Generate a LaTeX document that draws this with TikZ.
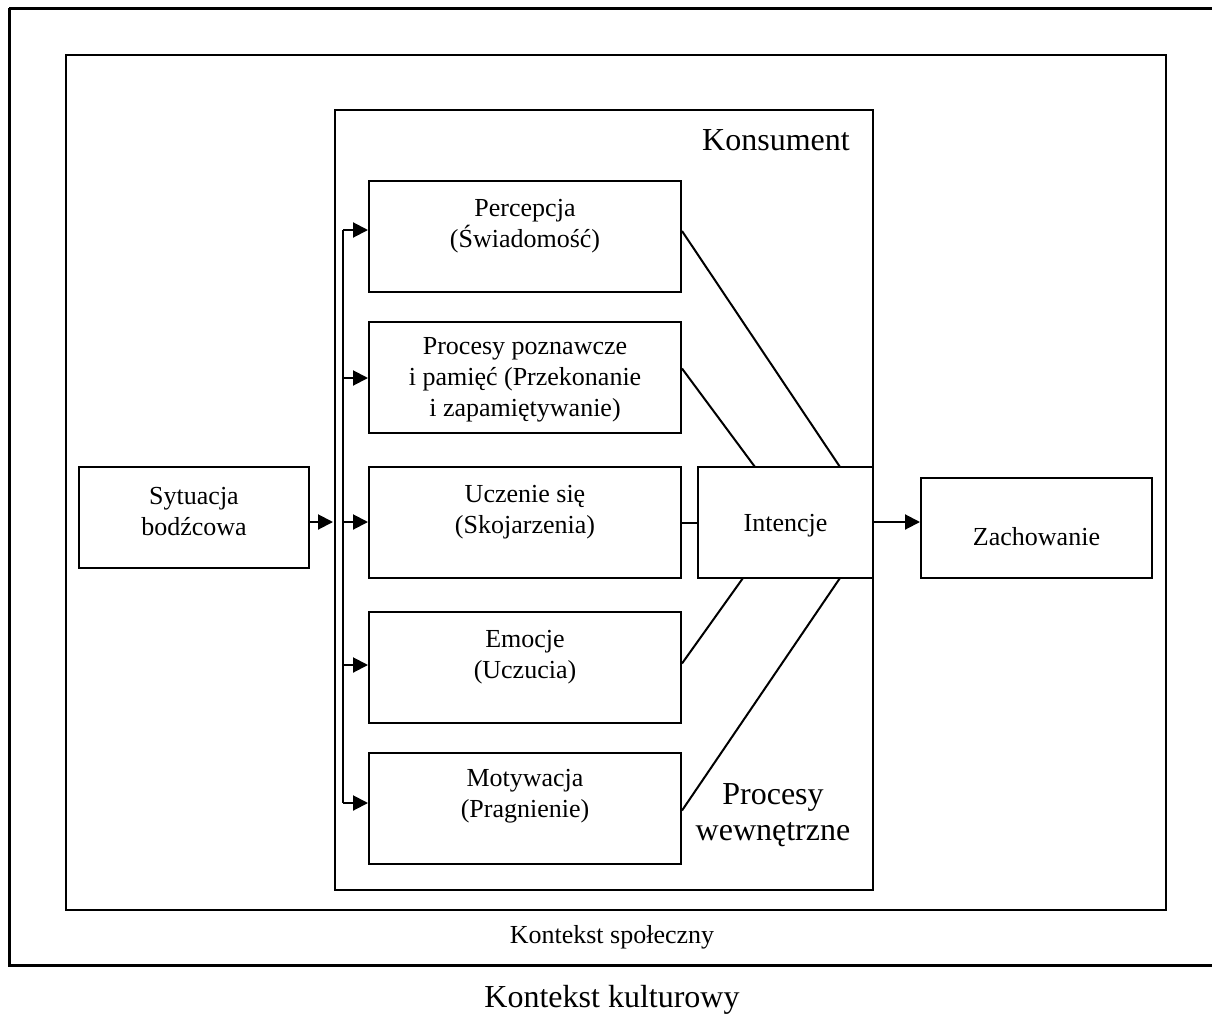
\documentclass[tikz,border=0pt]{standalone}
\usepackage{fontspec}
\setmainfont{Liberation Serif}
\usetikzlibrary{arrows.meta,calc}
\begin{document}
\begin{tikzpicture}[x=1pt,y=-1pt,
  box/.style={draw,line width=2pt,inner sep=0pt,minimum width=312pt,minimum height=111pt},
  txt/.style={align=center,font=\fontsize{26}{31}\selectfont,inner sep=0pt},
  big/.style={align=center,font=\fontsize{32}{36}\selectfont,inner sep=0pt},
  conn/.style={line width=2pt},
  arr/.style={line width=2pt,-{Triangle[length=15pt,width=15pt]}}]
\useasboundingbox (0,0) rectangle (1212,1017);
% frames
\draw[line width=3pt] (9,8) -- (1240,8) (9,8) -- (9,965) -- (1240,965);
\node[draw,line width=2pt,inner sep=0pt,minimum width=1100pt,minimum height=855pt] (spol) at (616,482.5) {};
\node[draw,line width=2pt,inner sep=0pt,minimum width=538pt,minimum height=780pt] (kons) at (604,500) {};
% boxes
\node[box] (perc) at (525,236.5) {};
\node[box] (proc) at (525,377) {};
\node[box] (ucz) at (525,522.5) {};
\node[box] (emo) at (525,667) {};
\node[box] (mot) at (525,808) {};
\node[box,minimum width=230pt,minimum height=101pt] (syt) at (194,517.5) {};
\node[box,minimum width=175pt,minimum height=111pt] (int) at (785.5,522.5) {};
\node[box,minimum width=231pt,minimum height=100pt] (zach) at (1036.5,528) {};
% texts
\node[txt] (tperc) at ($(perc.center)+(0,-10)$) {Percepcja\\(Świadomość)};
\node[txt] (tproc) at ($(proc.center)+(0,3)$) {Procesy poznawcze\\i pamięć (Przekonanie\\i zapamiętywanie)};
\node[txt] (tucz) at ($(ucz.center)+(0,-10)$) {Uczenie się\\(Skojarzenia)};
\node[txt] (temo) at ($(emo.center)+(0,-10)$) {Emocje\\(Uczucia)};
\node[txt] (tmot) at ($(mot.center)+(0,-12)$) {Motywacja\\(Pragnienie)};
\node[txt] (tsyt) at ($(syt.center)+(0,-6)$) {Sytuacja\\bodźcowa};
\node[txt] (tint) at ($(int.center)+(0,3)$) {Intencje};
\node[txt] (tzach) at ($(zach.center)+(0,9)$) {Zachowanie};
\node[big] (tkons) at (776,140) {Konsument};
\node[big] (tpw) at (773,815) {Procesy\\wewnętrzne};
\node[txt] (tspol) at (612,937) {Kontekst społeczny};
\node[big] (tkult) at (612,1000) {Kontekst kulturowy};
% bus
\coordinate (b1) at (343,230);
\coordinate (b2) at (343,378);
\coordinate (b3) at (343,522);
\coordinate (b4) at (343,665);
\coordinate (b5) at (343,803);
\draw[conn] (b1) -- (b5);
\draw[arr] (syt.east |- b3) -- ($(b3 -| kons.west)+(-1,0)$);
\draw[arr] (b1) -- (b1 -| perc.west);
\draw[arr] (b2) -- (b2 -| proc.west);
\draw[arr] (b3) -- (b3 -| ucz.west);
\draw[arr] (b4) -- (b4 -| emo.west);
\draw[arr] (b5) -- (b5 -| mot.west);
% connectors to intencje
\coordinate (i1) at (840,467);
\coordinate (i2) at (755,467);
\coordinate (i4) at (743,578);
\coordinate (i5) at (840,578);
\draw[conn] ($(perc.north east)+(0,51)$) -- (i1);
\draw[conn] ($(proc.north east)+(0,48)$) -- (i2);
\draw[conn] (ucz.east) -- (int.west);
\draw[conn] ($(emo.north east)+(0,53)$) -- (i4);
\draw[conn] ($(mot.north east)+(0,59)$) -- (i5);
\draw[arr] (int.east |- b3) -- (b3 -| zach.west);
\end{tikzpicture}
\end{document}
